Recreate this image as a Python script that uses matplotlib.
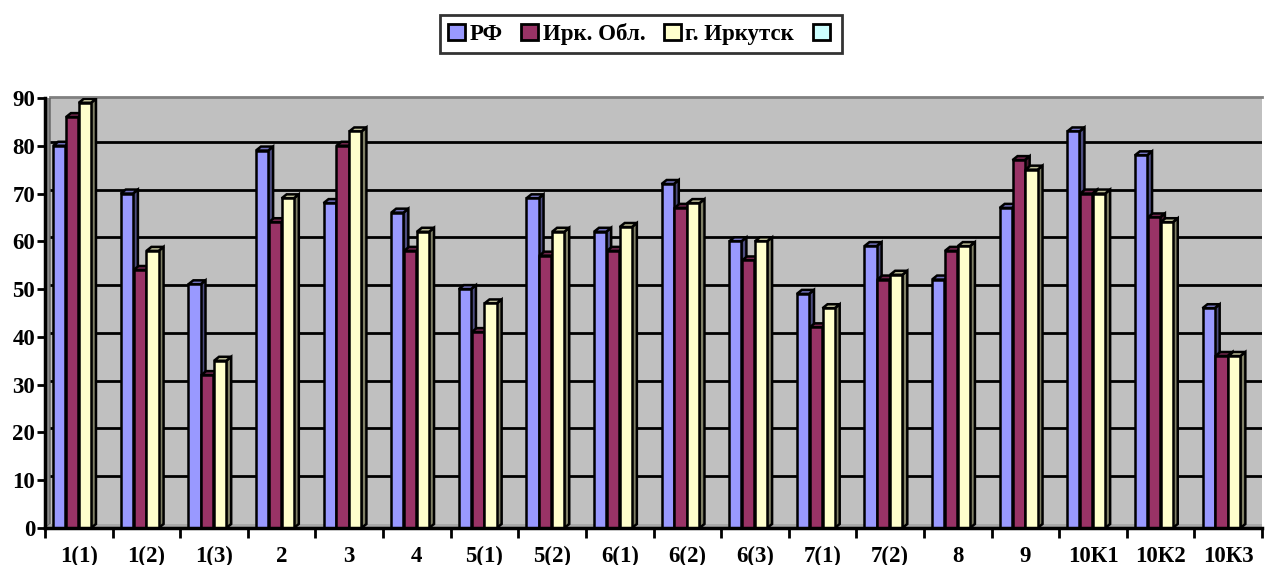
import matplotlib
matplotlib.use("Agg")
import matplotlib.pyplot as plt
from matplotlib.patches import Polygon, Patch
import numpy as np

categories = ["1(1)", "1(2)", "1(3)", "2", "3", "4", "5(1)", "5(2)", "6(1)", "6(2)",
              "6(3)", "7(1)", "7(2)", "8", "9", "10К1", "10К2", "10К3"]
rf = [80, 70, 51, 79, 68, 66, 50, 69, 62, 72, 60, 49, 59, 52, 67, 83, 78, 46]
irk_obl = [86, 54, 32, 64, 80, 58, 41, 57, 58, 67, 56, 42, 52, 58, 77, 70, 65, 36]
irkutsk = [89, 58, 35, 69, 83, 62, 47, 62, 63, 68, 60, 46, 53, 59, 75, 70, 64, 36]
series_names = ["РФ", "Ирк. Обл.", "г. Иркутск", ""]
yticks = [0, 10, 20, 30, 40, 50, 60, 70, 80, 90]

face_colors = ["#9999FF", "#993366", "#FFFFCC", "#CCFFFF"]
side_colors = ["#4D4D80", "#4D1A33", "#808066"]
top_colors = ["#7373BF", "#73264D", "#BFBF99"]

plt.rcParams['font.family'] = ['Liberation Serif', 'DejaVu Serif']
plt.rcParams['font.weight'] = 'bold'

W, H = 1266, 565
fig = plt.figure(figsize=(W / 100, H / 100), dpi=100)
left_px, right_px, top_px, bot_px = 45, 1262, 98, 528
ax = fig.add_axes([left_px / W, 1 - bot_px / H, (right_px - left_px) / W, (bot_px - top_px) / H])
n = len(categories)
ax.set_xlim(-0.5, n - 0.5)
ax.set_ylim(0, 90)
ax.set_facecolor("#C0C0C0")

px_x = (right_px - left_px) / n  # pixels per category
px_y = (bot_px - top_px) / 90.0
ddx = 5 / px_x
ddy = 4 / px_y

x = np.arange(n)
# back wall gridlines (shifted by depth)
for t in yticks[1:-1]:
    ax.plot([-0.5 + ddx, n - 0.5], [t + ddy, t + ddy], color="black", lw=2, zorder=1)
# top of back wall
ax.plot([-0.5 + ddx, n - 0.5], [90 + ddy * 0.3, 90 + ddy * 0.3], color="#808080", lw=2, zorder=1, clip_on=False)
# left wall
ax.add_patch(Polygon([(-0.5, 0), (-0.5 + ddx, ddy), (-0.5 + ddx, 90 + ddy * 0.3), (-0.5, 90)],
                     closed=True, facecolor="#8C8C8C", edgecolor="#606060", lw=1, zorder=1))
# floor
ax.add_patch(Polygon([(-0.5, 0), (-0.5 + ddx, ddy), (n - 0.5, ddy), (n - 0.5, 0)],
                     closed=True, facecolor="#A8A8A8", edgecolor="none", zorder=1))

width = 0.18
offsets = [-0.29, -0.1, 0.09]
data = [rf, irk_obl, irkutsk]
for si, (vals, off) in enumerate(zip(data, offsets)):
    for xi, v in zip(x, vals):
        x0 = xi + off - width / 2
        x1 = xi + off + width / 2
        ax.add_patch(Polygon([(x1, 0), (x1 + ddx, ddy), (x1 + ddx, v + ddy), (x1, v)], closed=True,
                             facecolor=side_colors[si], edgecolor="black", lw=1.8, zorder=2 + si))
        ax.add_patch(Polygon([(x0, v), (x0 + ddx, v + ddy), (x1 + ddx, v + ddy), (x1, v)], closed=True,
                             facecolor=top_colors[si], edgecolor="black", lw=1.8, zorder=2 + si))
    ax.bar(x + off, vals, width=width, color=face_colors[si], edgecolor="black", lw=1.8, zorder=2 + si)

for s in ["top", "right"]:
    ax.spines[s].set_visible(False)
for s in ["left", "bottom"]:
    ax.spines[s].set_linewidth(2.5)
    ax.spines[s].set_zorder(10)

ax.set_yticks(yticks)
ax.set_yticklabels([str(t) for t in yticks], fontsize=16.5, fontweight="bold")
ax.tick_params(axis="y", length=6, width=2, pad=1)
ax.set_xticks(np.arange(-0.5, n, 1.0))
ax.set_xticklabels([])
ax.set_xticks(x, minor=True)
ax.set_xticklabels(categories, minor=True, fontsize=16.5, fontweight="bold")
ax.tick_params(axis="x", which="major", length=7, width=2)
ax.tick_params(axis="x", which="minor", length=0, pad=13)

handles = [Patch(facecolor=c, edgecolor="black", lw=2) for c in face_colors]
leg = fig.legend(handles, series_names, loc="center", bbox_to_anchor=(641 / W, 1 - 34 / H), ncol=4,
                 frameon=True, fancybox=False, edgecolor="black", handlelength=0.75, handleheight=0.75,
                 handletextpad=0.2, columnspacing=0.8, borderpad=0.35,
                 prop={"family": "Liberation Serif", "weight": "bold", "size": 16.5})
leg.get_frame().set_linewidth(2)

fig.savefig("out.png", dpi=100, facecolor="white")
